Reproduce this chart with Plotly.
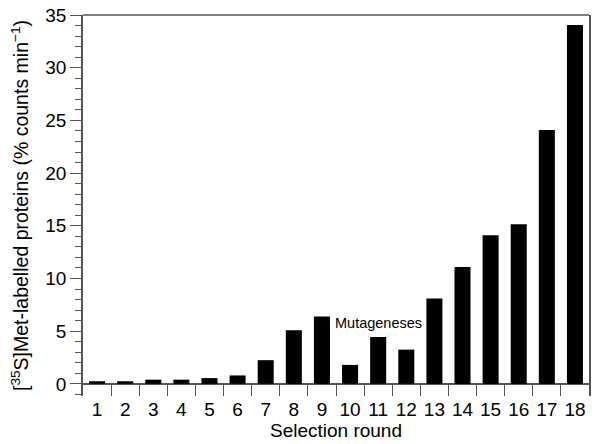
import plotly.graph_objects as go

rounds = [str(i) for i in range(1, 19)]
values = [0.25, 0.25, 0.4, 0.4, 0.55, 0.8, 2.25, 5.1, 6.4, 1.8, 4.45, 3.25, 8.1, 11.1, 14.1, 15.15, 24.1, 34.05]
y_tick_vals = [0, 5, 10, 15, 20, 25, 30, 35]
annot_text = "Mutageneses"
annot_round = "11"
annot_y = 5.75

FONT = "Liberation Sans, Arial, Helvetica, sans-serif"
AX = "#555555"

fig = go.Figure(go.Bar(x=rounds, y=values, marker=dict(color="black", line=dict(width=0)), width=0.57))

# page body has an 8px default margin, so the figure is sized to fill the 600x444 window from (8, 8)
fig.update_layout(
    width=592, height=436,
    margin=dict(l=75, r=11, t=7, b=48, autoexpand=False),
    plot_bgcolor="white", paper_bgcolor="white",
    showlegend=False,
    font=dict(family=FONT, size=19, color="black"),
)
fig.update_xaxes(
    type="category", tickson="boundaries", ticks="inside", ticklen=12, tickwidth=1.2, tickcolor=AX,
    tickangle=0, automargin=False,
    showline=False, showgrid=False, zeroline=False,
    title=dict(text="Selection round", font=dict(size=19), standoff=0),
    tickfont=dict(size=19),
)
fig.update_yaxes(
    range=[-1.15, 35], tickvals=y_tick_vals, ticks="outside", ticklen=11, tickwidth=1.2, tickcolor=AX,
    minor=dict(dtick=1, ticks="outside", ticklen=6, tickwidth=1, tickcolor=AX, showgrid=False),
    showline=True, linecolor=AX, linewidth=1.5, mirror=True, automargin=False,
    ticklabeloverflow="allow",
    showgrid=False, zeroline=True, zerolinecolor=AX, zerolinewidth=2,
    title=dict(text="[<sup>35</sup>S]Met-labelled proteins (% counts min<sup>−1</sup>)", font=dict(size=19.5), standoff=12),
    tickfont=dict(size=19),
)
fig.add_shape(type="line", xref="paper", yref="paper", x0=0, x1=1, y0=1, y1=1,
              line=dict(color=AX, width=1.5))
# category axis: annotation x is given as the category index
fig.add_annotation(x=rounds.index(annot_round), y=annot_y, text=annot_text, showarrow=False,
                   font=dict(size=14.5, family=FONT, color="black"))

fig.write_html("out.html")
